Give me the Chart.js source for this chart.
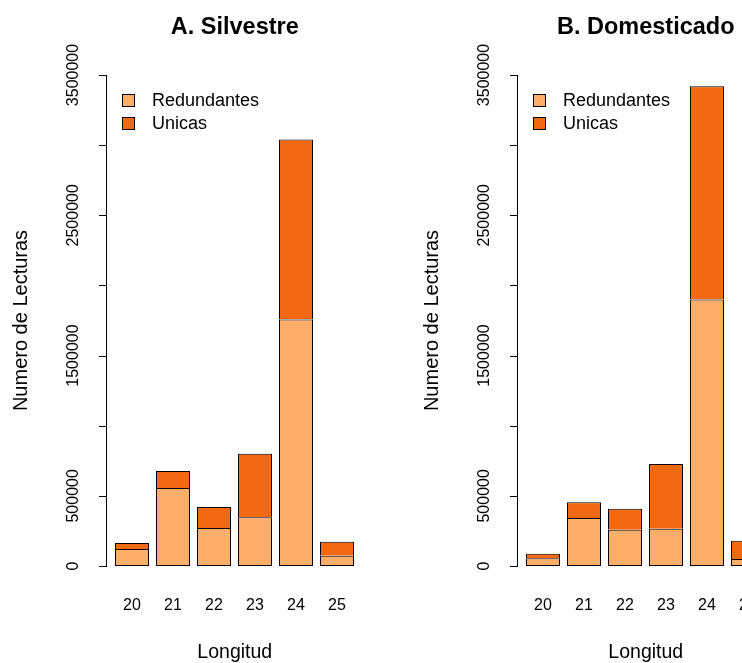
<!DOCTYPE html>
<html>
<head>
<meta charset="utf-8">
<script src="https://cdn.jsdelivr.net/npm/chart.js@4/dist/chart.umd.min.js"></script>
<style>
  html, body { margin: 0; padding: 0; background: #fff; overflow: hidden; }
  #wrap { position: relative; width: 742px; height: 663px; overflow: hidden; }
  .panel { position: absolute; top: 0; width: 411px; height: 663px; }
</style>
</head>
<body>
<div id="wrap">
  <div class="panel" style="left:0"><canvas id="silvestre" width="411" height="663"></canvas></div>
  <div class="panel" style="left:411px"><canvas id="domesticado" width="411" height="663"></canvas></div>
</div>
<script>
const categories = ["20", "21", "22", "23", "24", "25"];

const silvestreRedundantes = [121000, 556000, 271000, 347000, 1758000, 73000];
const silvestreUnicas = [43000, 121000, 149000, 453000, 1282000, 100000];

const domesticadoRedundantes = [55000, 342000, 259000, 266000, 1900000, 50000];
const domesticadoUnicas = [33000, 112000, 149000, 461000, 1520000, 130000];

const yTicks = [0, 500000, 1000000, 1500000, 2000000, 2500000, 3000000, 3500000];
const yTickLabels = ["0", "500000", "", "1500000", "", "2500000", "", "3500000"];

const seriesNames = ["Redundantes", "Unicas"];
const colRed = "#FDAE6B";
const colUni = "#F16913";
const FONT = "'Liberation Sans', Arial, Helvetica, sans-serif";

// R-style axes, titles and legend, drawn from the chart's own scales
const rStyle = {
  id: "rStyle",
  afterDraw(chart, args, opts) {
    const ctx = chart.ctx;
    const x = chart.scales.x, y = chart.scales.y;
    const area = chart.chartArea;
    const axisX = Math.round(area.left - 6);
    ctx.save();
    ctx.strokeStyle = "#000";
    ctx.fillStyle = "#000";
    ctx.lineWidth = 1;

    // y axis
    ctx.beginPath();
    ctx.moveTo(axisX + 0.5, y.getPixelForValue(yTicks[0]) + 0.5);
    ctx.lineTo(axisX + 0.5, y.getPixelForValue(yTicks[yTicks.length - 1]) + 0.5);
    yTicks.forEach((v) => {
      const py = Math.round(y.getPixelForValue(v)) + 0.5;
      ctx.moveTo(axisX - 7, py);
      ctx.lineTo(axisX + 1, py);
    });
    ctx.stroke();

    ctx.font = "16px " + FONT;
    ctx.textAlign = "center";
    ctx.textBaseline = "alphabetic";
    yTicks.forEach((v, i) => {
      if (!yTickLabels[i]) return;
      ctx.save();
      ctx.translate(axisX - 28, y.getPixelForValue(v));
      ctx.rotate(-Math.PI / 2);
      ctx.fillText(yTickLabels[i], 0, 0);
      ctx.restore();
    });

    // category labels
    categories.forEach((c, i) => {
      ctx.fillText(c, x.getPixelForValue(i), 610);
    });

    // axis titles
    const midX = (axisX + area.right + 6) / 2;
    ctx.font = "19.5px " + FONT;
    ctx.fillText("Longitud", midX, 658);
    ctx.save();
    ctx.translate(27, (area.top + area.bottom) / 2);
    ctx.rotate(-Math.PI / 2);
    ctx.font = "20px " + FONT;
    ctx.fillText("Numero de Lecturas", 0, 0);
    ctx.restore();

    // main title
    ctx.font = "bold 23.5px " + FONT;
    ctx.fillText(opts.title, midX, 34);

    // legend
    ctx.font = "18px " + FONT;
    ctx.textAlign = "left";
    ctx.textBaseline = "middle";
    [colRed, colUni].forEach((col, i) => {
      const cy = 100 + i * 23;
      ctx.fillStyle = col;
      ctx.fillRect(122, cy - 6, 13, 13);
      ctx.strokeRect(122.5, cy - 5.5, 12, 12);
      ctx.fillStyle = "#000";
      ctx.fillText(seriesNames[i], 152, cy + 1);
    });
    ctx.restore();
  }
};

function makePanel(id, title, red, uni) {
  return new Chart(document.getElementById(id), {
    type: "bar",
    data: {
      labels: categories,
      datasets: [
        { label: seriesNames[0], data: red, backgroundColor: colRed, borderSkipped: false },
        { label: seriesNames[1], data: uni, backgroundColor: colUni, borderSkipped: "start" }
      ]
    },
    options: {
      responsive: false,
      animation: false,
      devicePixelRatio: 1,
      layout: { padding: { left: 111.5, right: 53.5, top: 55.36, bottom: 77.36 } },
      datasets: {
        bar: {
          borderColor: "#000",
          borderWidth: 1,
          barPercentage: 34 / 41,
          categoryPercentage: 1
        }
      },
      scales: {
        x: { display: false, stacked: true },
        y: { display: false, stacked: true, min: -140000, max: 3640000 }
      },
      plugins: {
        legend: { display: false },
        tooltip: { enabled: false },
        rStyle: { title: title }
      }
    },
    plugins: [rStyle]
  });
}

makePanel("silvestre", "A. Silvestre", silvestreRedundantes, silvestreUnicas);
makePanel("domesticado", "B. Domesticado", domesticadoRedundantes, domesticadoUnicas);
</script>
</body>
</html>
